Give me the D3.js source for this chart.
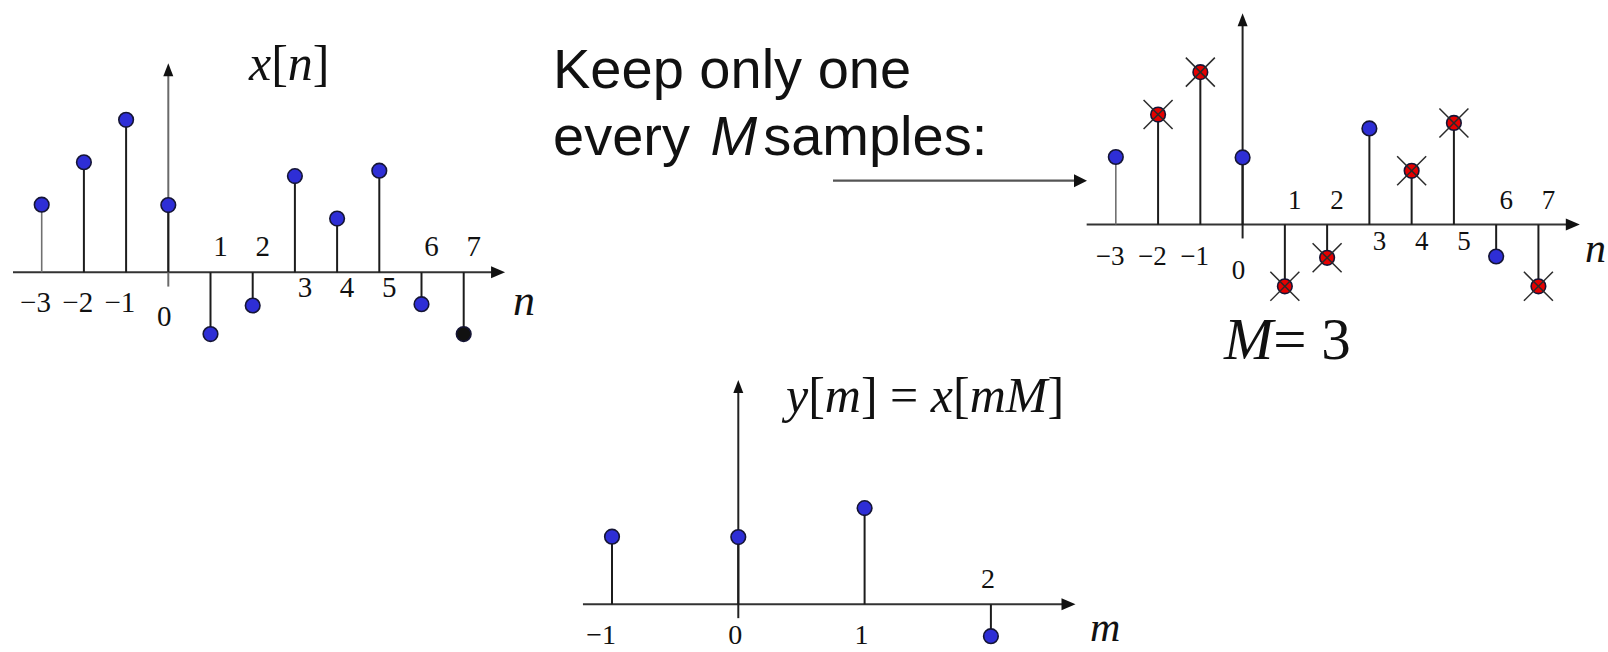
<!DOCTYPE html>
<html>
<head>
<meta charset="utf-8">
<script src="https://cdn.jsdelivr.net/npm/d3@7"></script>
<style>
  html, body { margin: 0; padding: 0; background: #fff; }
  svg { display: block; }
</style>
</head>
<body>
<svg id="fig" width="1608" height="652"></svg>
<script>
// Input signal x[n]
const sampleIndex  = [-3, -2, -1, 0, 1, 2, 3, 4, 5, 6, 7];
const sampleValues = [1.61, 2.62, 3.63, 1.6, -1.47, -0.79, 2.29, 1.28, 2.42, -0.76, -1.47];
const sampleLabels = ["−3", "−2", "−1", "0", "1", "2", "3", "4", "5", "6", "7"];

// Decimation factor
const factor = 3;

// Output signal y[m] = x[mM]
const outIndex  = [-1, 0, 1, 2];
const outLabels = ["−1", "0", "1", "2"];
const outValues = outIndex.map(m => sampleValues[sampleIndex.indexOf(m * factor)]);

const svg = d3.select("#fig");
const SERIF = "'Liberation Serif', 'Times New Roman', serif";
const SANS = "'Liberation Sans', Arial, sans-serif";
const BLUE = "#2e2ed6", RED = "#e60000", DARK = "#1c1c1c";

function arrowHead(g, x, y, dir, len, half, color) {
  let p;
  if (dir === "right") p = [[x, y], [x - len, y - half], [x - len, y + half]];
  else p = [[x, y], [x - half, y + len], [x + half, y + len]];
  g.append("path").attr("d", d3.line()(p) + "Z").attr("fill", color || "#111");
}

// One stem plot panel
function stemPanel(opt) {
  const g = svg.append("g");
  const x = d3.scaleLinear().domain([0, 1]).range([opt.x0, opt.x0 + opt.step]);
  const y = d3.scaleLinear().domain([0, 1]).range([opt.base, opt.base - 42]);

  // horizontal axis
  g.append("line")
    .attr("x1", x(opt.xDom[0])).attr("x2", x(opt.xDom[1]) - 8)
    .attr("y1", y(0)).attr("y2", y(0))
    .attr("stroke", "#333").attr("stroke-width", 2);
  arrowHead(g, x(opt.xDom[1]), y(0), "right", 14, 6);

  // vertical axis
  g.append("line")
    .attr("x1", x(0)).attr("x2", x(0))
    .attr("y1", y(opt.yDom[0])).attr("y2", y(opt.yDom[1]) + 8)
    .attr("stroke", opt.yAxisColor || "#222").attr("stroke-width", 2);
  arrowHead(g, x(0), y(opt.yDom[1]), "up", 13, 5);

  // stems
  g.selectAll(".stem").data(opt.idx).enter().append("line")
    .attr("x1", d => x(d)).attr("x2", d => x(d))
    .attr("y1", y(0)).attr("y2", (d, i) => y(opt.vals[i]))
    .attr("stroke", (d, i) => (opt.lightFirst && i === 0) ? "#707070" : DARK)
    .attr("stroke-width", (d, i) => (opt.lightFirst && i === 0) ? 1.6 : 2);

  // sample heads
  g.selectAll(".dot").data(opt.idx).enter().append("circle")
    .attr("cx", d => x(d)).attr("cy", (d, i) => y(opt.vals[i]))
    .attr("r", 7.3)
    .attr("fill", (d, i) => opt.fill(d, i))
    .attr("stroke", "#151535").attr("stroke-width", 1.6);

  // crosses over discarded samples
  if (opt.crossed) {
    const half = 14.5;
    opt.idx.forEach((d, i) => {
      if (!opt.crossed(d)) return;
      const cx = x(d), cy = y(opt.vals[i]);
      [[-1, -1, 1, 1], [-1, 1, 1, -1]].forEach(s => {
        g.append("line")
          .attr("x1", cx + s[0] * half).attr("y1", cy + s[1] * half)
          .attr("x2", cx + s[2] * half).attr("y2", cy + s[3] * half)
          .attr("stroke", "#2a2a2a").attr("stroke-width", 1.5);
      });
    });
  }

  // tick labels
  opt.idx.forEach((d, i) => {
    const p = opt.labelPlace(d, opt.vals[i]);
    g.append("text")
      .attr("x", x(d) + p.dx).attr("y", y(0) + p.dy)
      .attr("text-anchor", p.anchor)
      .attr("font-family", SERIF).attr("font-size", opt.fs)
      .attr("fill", "#111")
      .text(opt.labels[i]);
  });
  return { g, x, y };
}

function placeN(fs) {
  return (n, v) => {
    if (n === 0) return { anchor: "middle", dx: -4, dy: 54 };
    if (n < 0) return { anchor: "end", dx: 2 + fs * 0.25, dy: 40 };
    return { anchor: "middle", dx: 10, dy: v < 0 ? -16 : 25 };
  };
}

// x[n]
stemPanel({
  idx: sampleIndex, vals: sampleValues, labels: sampleLabels,
  x0: 168.3, step: 42.2, base: 272.3,
  xDom: [-3.68, 7.98], yDom: [-0.34, 4.98],
  yAxisColor: "#6a6a6a", lightFirst: true, fs: 29,
  fill: (d, i) => d === 7 ? "#111" : BLUE,
  labelPlace: placeN(29)
});

// x[n] with discarded samples crossed out
stemPanel({
  idx: sampleIndex, vals: sampleValues, labels: sampleLabels,
  x0: 1242.6, step: 42.26, base: 224.6,
  xDom: [-3.69, 7.98], yDom: [-0.33, 5.03],
  lightFirst: true, fs: 27,
  fill: d => (d % factor === 0) ? BLUE : RED,
  crossed: d => d % factor !== 0,
  labelPlace: placeN(27)
});

// y[m]
stemPanel({
  idx: outIndex, vals: outValues, labels: outLabels,
  x0: 738.3, step: 126.3, base: 604.3,
  xDom: [-1.23, 2.67], yDom: [-0.33, 5.34],
  fs: 28,
  fill: () => BLUE,
  labelPlace: (m, v) => ({ anchor: "end", dx: 4, dy: v < 0 ? -16 : 40 })
});

// ---- text annotations ----
function mathText(x, y, fs, parts) {
  const t = svg.append("text").attr("x", x).attr("y", y)
    .attr("font-family", SERIF).attr("font-size", fs).attr("fill", "#111");
  parts.forEach(p => {
    const s = t.append("tspan").text(p[0]);
    if (p[1]) s.attr("font-style", "italic");
    if (p[2]) s.attr("dx", p[2]);
  });
  return t;
}

mathText(249, 80, 50, [["x", 1], ["["], ["n", 1], ["]"]]);
mathText(786, 412, 50, [["y", 1], ["["], ["m", 1], ["] = "], ["x", 1], ["["], ["mM", 1], ["]"]]);
mathText(1224, 359, 59, [["M", 1], ["= 3"]]);
mathText(513, 315, 44, [["n", 1]]);
mathText(1585, 262, 42, [["n", 1]]);
mathText(1090, 641, 42, [["m", 1]]);

// caption
svg.append("text").attr("x", 553).attr("y", 88)
  .attr("font-family", SANS).attr("font-size", 56).attr("fill", "#111")
  .text("Keep only one");
const cap2 = svg.append("text").attr("x", 553).attr("y", 155)
  .attr("font-family", SANS).attr("font-size", 56).attr("fill", "#111");
cap2.append("tspan").text("every ");
cap2.append("tspan").attr("font-style", "italic").attr("dx", 5).text("M");
cap2.append("tspan").attr("dx", 6).text("samples:");

// pointer arrow toward the decimation panel
svg.append("line").attr("x1", 833).attr("x2", 1076).attr("y1", 180.7).attr("y2", 180.7)
  .attr("stroke", "#555").attr("stroke-width", 2.2);
arrowHead(svg, 1087, 180.7, "right", 13, 6.5);
</script>
</body>
</html>
